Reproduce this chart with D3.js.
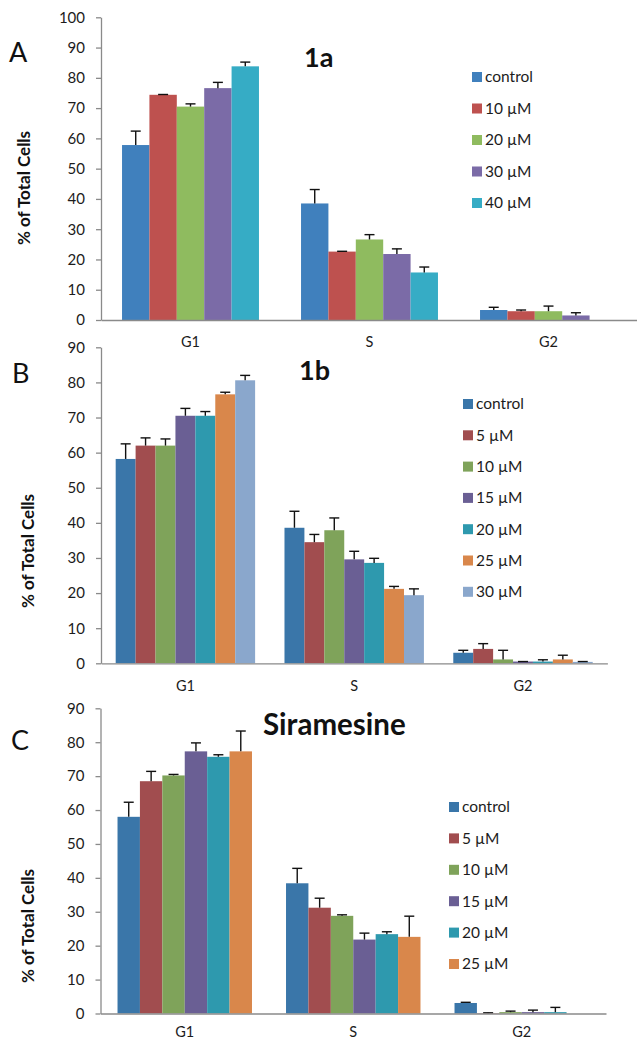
<!DOCTYPE html>
<html><head><meta charset="utf-8">
<script src="https://cdn.jsdelivr.net/npm/d3@7"></script>
<style>body{margin:0;background:#fff}svg{display:block}text{font-family:Lato,"Open Sans",sans-serif}</style>
</head><body>
<script>
// ---------- data ----------
const categories = ["G1", "S", "G2"];
const yTicksA = [0,10,20,30,40,50,60,70,80,90,100];
const yTicksBC = [0,10,20,30,40,50,60,70,80,90];

// Panel A (1a): series -> [G1, S, G2]
const seriesA = ["control", "10 µM", "20 µM", "30 µM", "40 µM"];
const valuesA = [[57.8, 38.5, 3.3], [74.4, 22.6, 2.9], [70.5, 26.6, 2.9], [76.6, 21.8, 1.5], [83.8, 15.7, 0]];
const errorsA = [[4.6, 4.6, 0.9], [0.1, 0.1, 0.4], [0.9, 1.6, 1.7], [1.9, 1.7, 0.9], [1.4, 1.8, 0]];

// Panel B (1b)
const seriesB = ["control", "5 µM", "10 µM", "15 µM", "20 µM", "25 µM", "30 µM"];
const valuesB = [[58.2, 38.6, 3.0], [62.0, 34.5, 4.1], [62.0, 37.9, 1.1], [70.5, 29.6, 0.5], [70.5, 28.6, 0.5], [76.6, 21.2, 1.1], [80.6, 19.4, 0.4]];
const errorsB = [[4.3, 4.7, 0.7], [2.2, 2.2, 1.5], [1.9, 3.5, 2.6], [2.1, 2.3, 0.0], [1.2, 1.3, 0.5], [0.6, 0.7, 1.2], [1.4, 1.8, 0.1]];

// Panel C (Siramesine)
const seriesC = ["control", "5 µM", "10 µM", "15 µM", "20 µM", "25 µM"];
const valuesC = [[58.0, 38.4, 3.1], [68.5, 31.2, 0.1], [70.2, 28.8, 0.4], [77.3, 21.8, 0.4], [75.7, 23.4, 0.4], [77.3, 22.6, 0]];
const errorsC = [[4.3, 4.4, 0.2], [2.9, 2.8, 0.1], [0.3, 0.3, 0.3], [2.5, 1.9, 0.6], [0.6, 0.7, 1.4], [6.0, 6.1, 0]];

const colorsA = ["#4080BD", "#BE514F", "#8FBB5F", "#7B6BA7", "#36ACC5"];
const colorsB = ["#3A76A9", "#A14D4F", "#7FA35A", "#6A5F94", "#2E99AE", "#D9874B", "#8AA7CC"];
const colorsC = colorsB.slice(0, 6);

// ---------- drawing ----------
const W = 637, H = 1042;
const svg = d3.select("body").append("svg").attr("width", W).attr("height", H);
const AXIS = "#8a8a8a", TXT = "#1c1c1c";

function panel(cfg) {
  const g = svg.append("g");
  const y = d3.scaleLinear().domain([0, cfg.yMax]).range([cfg.base, cfg.top]);
  const x0 = d3.scaleBand().domain(categories).range([cfg.xl, cfg.xr])
    .paddingInner(cfg.pad).paddingOuter(cfg.pad / 2);
  const x1 = d3.scaleBand().domain(d3.range(cfg.series.length)).range([0, x0.bandwidth()]);

  // bars
  cfg.series.forEach((s, i) => {
    const rows = categories.map((c, j) => ({c, v: cfg.values[i][j], e: cfg.errors[i][j]}));
    g.append("g").selectAll("rect").data(rows).join("rect")
      .attr("x", d => x0(d.c) + x1(i))
      .attr("y", d => y(d.v))
      .attr("width", x1.bandwidth())
      .attr("height", d => y(0) - y(d.v))
      .attr("fill", cfg.colors[i]);
    const eb = g.append("g").attr("stroke", "#111").attr("stroke-width", 1.4);
    rows.filter(d => d.v > 0 || d.e > 0).forEach(d => {
      const cx = x0(d.c) + x1(i) + x1.bandwidth() / 2;
      eb.append("line").attr("x1", cx).attr("x2", cx).attr("y1", y(d.v)).attr("y2", y(d.v + d.e));
      eb.append("line").attr("x1", cx - 5).attr("x2", cx + 5).attr("y1", y(d.v + d.e)).attr("y2", y(d.v + d.e));
    });
  });

  // y axis
  const ya = g.append("g").attr("transform", `translate(${cfg.xl},0)`)
    .call(d3.axisLeft(y).tickValues(cfg.ticks).tickSize(5).tickSizeOuter(0).tickPadding(11));
  ya.selectAll("path,line").attr("stroke", AXIS).attr("stroke-width", 1.3);
  ya.selectAll("text").attr("font-size", 15).attr("fill", TXT).attr("font-family", "Lato");

  // x axis
  const xa = g.append("g").attr("transform", `translate(0,${cfg.base})`)
    .call(d3.axisBottom(x0).tickSize(0).tickSizeOuter(0).tickPadding(cfg.xPad));
  xa.selectAll("path").attr("stroke", AXIS).attr("stroke-width", 1.3);
  xa.selectAll("text").attr("font-size", 14.5).attr("fill", TXT).attr("font-family", "Lato");

  // y title
  g.append("text").attr("transform", `translate(${cfg.ytX},${cfg.ytY}) rotate(-90)`)
    .attr("text-anchor", "middle").attr("dy", "0.35em")
    .attr("font-size", 17).attr("font-weight", "bold").attr("fill", "#111")
    .text("% of Total Cells");

  // panel letter
  g.append("text").attr("x", cfg.letterX).attr("y", cfg.letterY)
    .attr("font-size", 27).attr("fill", "#111").text(cfg.letter);

  // title
  g.append("text").attr("x", cfg.titleX).attr("y", cfg.titleY)
    .attr("font-size", cfg.titleSize).attr("font-weight", "bold").attr("fill", "#111").text(cfg.title);

  // legend
  const lg = g.append("g");
  cfg.series.forEach((s, i) => {
    const cy = cfg.legY + i * cfg.legStep;
    lg.append("rect").attr("x", cfg.legX).attr("y", cy - 5).attr("width", 10).attr("height", 10).attr("fill", cfg.colors[i]);
    lg.append("text").attr("x", cfg.legX + 13).attr("y", cy).attr("dy", "0.35em")
      .attr("font-size", 15.5).attr("fill", TXT).text(s);
  });
}

panel({series: seriesA, values: valuesA, errors: errorsA, colors: colorsA,
  yMax: 100, ticks: yTicksA, base: 320, top: 17.3, xl: 101, xr: 638, pad: 0.235, xPad: 17,
  ytX: 24, ytY: 188, letter: "A", letterX: 9, letterY: 62,
  title: "1a", titleX: 304, titleY: 67, titleSize: 27,
  legX: 472, legY: 77, legStep: 31.5});

panel({series: seriesB, values: valuesB, errors: errorsB, colors: colorsB,
  yMax: 90, ticks: yTicksBC, base: 663.3, top: 347.3, xl: 101, xr: 607.4, pad: 0.174, xPad: 17,
  ytX: 28, ytY: 551, letter: "B", letterX: 12, letterY: 383,
  title: "1b", titleX: 299, titleY: 380, titleSize: 27,
  legX: 463, legY: 404, legStep: 31.3});

panel({series: seriesC, values: valuesC, errors: errorsC, colors: colorsC,
  yMax: 90, ticks: yTicksBC, base: 1013.5, top: 708.3, xl: 100.5, xr: 606, pad: 0.202, xPad: 13,
  ytX: 28, ytY: 926, letter: "C", letterX: 11, letterY: 750,
  title: "Siramesine", titleX: 263, titleY: 735, titleSize: 29.5,
  legX: 449, legY: 807, legStep: 31.4});
</script>
</body></html>
